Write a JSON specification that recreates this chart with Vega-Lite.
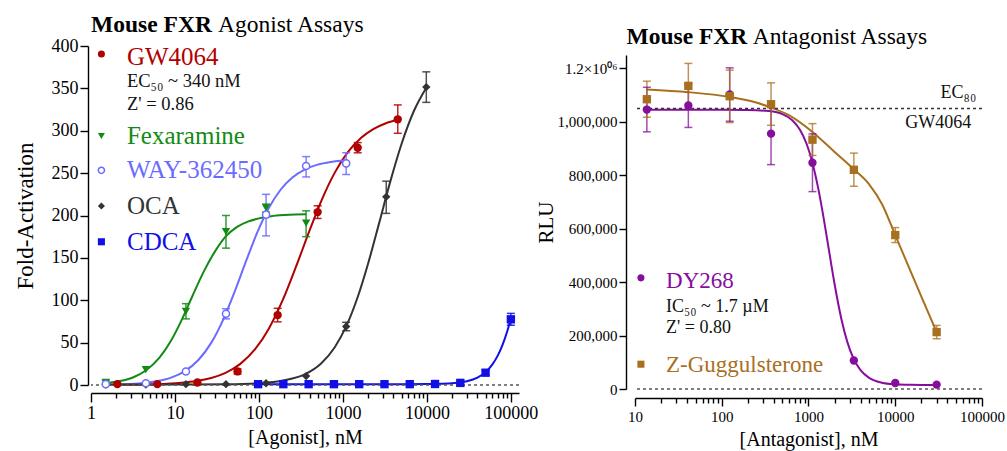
{
  "$schema": "https://vega.github.io/schema/vega-lite/v6.json",
  "background": "white",
  "padding": {"left": 14, "top": 13, "right": 2, "bottom": 2},
  "config": {
    "font": "Liberation Serif",
    "view": {"stroke": null},
    "axis": {"grid": false, "domainColor": "#000", "domainWidth": 1.4, "tickColor": "#000", "tickWidth": 1.4, "labelColor": "#000", "titleColor": "#000", "labelFont": "Liberation Serif", "titleFont": "Liberation Serif", "titleFontWeight": "normal", "labelFlush": false, "labelOverlap": false}
  },
  "datasets": {
    "ago": [
      {"c": "GW4064", "x": 2.06, "y": 1},
      {"c": "GW4064", "x": 6.17, "y": 1},
      {"c": "GW4064", "x": 18.5, "y": 3},
      {"c": "GW4064", "x": 55.6, "y": 16, "lo": 13, "hi": 19},
      {"c": "GW4064", "x": 167, "y": 82.5, "lo": 74.5, "hi": 90.5},
      {"c": "GW4064", "x": 500, "y": 204, "lo": 196.5, "hi": 211.5},
      {"c": "GW4064", "x": 1500, "y": 280, "lo": 274, "hi": 286},
      {"c": "GW4064", "x": 4500, "y": 313.5, "lo": 297, "hi": 330.5},
      {"c": "Fexaramine", "x": 1.5, "y": 3, "lo": 0.5, "hi": 5.5},
      {"c": "Fexaramine", "x": 4.5, "y": 18},
      {"c": "Fexaramine", "x": 13.5, "y": 87, "lo": 78, "hi": 96},
      {"c": "Fexaramine", "x": 40.5, "y": 181, "lo": 161.5, "hi": 200},
      {"c": "Fexaramine", "x": 121.5, "y": 209, "lo": 204, "hi": 213.5},
      {"c": "Fexaramine", "x": 364.5, "y": 191, "lo": 175, "hi": 205.5},
      {"c": "WAY-362450", "x": 1.5, "y": 1},
      {"c": "WAY-362450", "x": 4.5, "y": 2},
      {"c": "WAY-362450", "x": 13.5, "y": 16},
      {"c": "WAY-362450", "x": 40.5, "y": 84, "lo": 78, "hi": 90},
      {"c": "WAY-362450", "x": 121.5, "y": 201, "lo": 176, "hi": 225},
      {"c": "WAY-362450", "x": 364.5, "y": 258.5, "lo": 245.5, "hi": 269.5},
      {"c": "WAY-362450", "x": 1093.5, "y": 261.5, "lo": 248.5, "hi": 274},
      {"c": "OCA", "x": 1.5, "y": 0.5},
      {"c": "OCA", "x": 4.5, "y": 0.5},
      {"c": "OCA", "x": 13.5, "y": 1},
      {"c": "OCA", "x": 40.5, "y": 1},
      {"c": "OCA", "x": 121.5, "y": 2},
      {"c": "OCA", "x": 364.5, "y": 10.5},
      {"c": "OCA", "x": 1093.5, "y": 69, "lo": 64, "hi": 74},
      {"c": "OCA", "x": 3280, "y": 222, "lo": 202.5, "hi": 240.5},
      {"c": "OCA", "x": 9840, "y": 351.5, "lo": 333.5, "hi": 369.5},
      {"c": "CDCA", "x": 97.7, "y": 1},
      {"c": "CDCA", "x": 195.3, "y": 1},
      {"c": "CDCA", "x": 390.6, "y": 1},
      {"c": "CDCA", "x": 781.3, "y": 1},
      {"c": "CDCA", "x": 1562.5, "y": 1},
      {"c": "CDCA", "x": 3125, "y": 1},
      {"c": "CDCA", "x": 6250, "y": 1},
      {"c": "CDCA", "x": 12500, "y": 1.2},
      {"c": "CDCA", "x": 25000, "y": 2.5},
      {"c": "CDCA", "x": 50000, "y": 14.5, "lo": 11.5, "hi": 17.5},
      {"c": "CDCA", "x": 100000, "y": 77.5, "lo": 70.5, "hi": 84.5}
    ],
    "agoFit": [
      {"c": "GW4064", "x": 2.06, "y": 0.2}, {"c": "GW4064", "x": 3, "y": 0.35}, {"c": "GW4064", "x": 5, "y": 0.73}, {"c": "GW4064", "x": 8, "y": 1.45}, {"c": "GW4064", "x": 12, "y": 2.6}, {"c": "GW4064", "x": 18, "y": 4.64}, {"c": "GW4064", "x": 27, "y": 8.27}, {"c": "GW4064", "x": 40, "y": 14.3}, {"c": "GW4064", "x": 60, "y": 24.9}, {"c": "GW4064", "x": 90, "y": 42.2}, {"c": "GW4064", "x": 130, "y": 65.9}, {"c": "GW4064", "x": 190, "y": 99.2}, {"c": "GW4064", "x": 280, "y": 141.1}, {"c": "GW4064", "x": 400, "y": 182.1}, {"c": "GW4064", "x": 570, "y": 220.3}, {"c": "GW4064", "x": 800, "y": 250.6}, {"c": "GW4064", "x": 1150, "y": 275}, {"c": "GW4064", "x": 1650, "y": 291.7}, {"c": "GW4064", "x": 2300, "y": 302}, {"c": "GW4064", "x": 3200, "y": 308.6}, {"c": "GW4064", "x": 4500, "y": 312.9},
      {"c": "Fexaramine", "x": 1.5, "y": 2.2}, {"c": "Fexaramine", "x": 2.2, "y": 4.6}, {"c": "Fexaramine", "x": 3.2, "y": 9.2}, {"c": "Fexaramine", "x": 4.5, "y": 17.1}, {"c": "Fexaramine", "x": 6.5, "y": 31.9}, {"c": "Fexaramine", "x": 9, "y": 52.5}, {"c": "Fexaramine", "x": 12, "y": 76.6}, {"c": "Fexaramine", "x": 16, "y": 104.1}, {"c": "Fexaramine", "x": 22, "y": 133.8}, {"c": "Fexaramine", "x": 30, "y": 157.7}, {"c": "Fexaramine", "x": 40, "y": 175}, {"c": "Fexaramine", "x": 55, "y": 186.5}, {"c": "Fexaramine", "x": 75, "y": 193}, {"c": "Fexaramine", "x": 100, "y": 196.6}, {"c": "Fexaramine", "x": 140, "y": 199.1}, {"c": "Fexaramine", "x": 200, "y": 200.5}, {"c": "Fexaramine", "x": 270, "y": 201.2}, {"c": "Fexaramine", "x": 364.5, "y": 201.5},
      {"c": "WAY-362450", "x": 1.5, "y": 0.4}, {"c": "WAY-362450", "x": 2.5, "y": 0.96}, {"c": "WAY-362450", "x": 4, "y": 2.18}, {"c": "WAY-362450", "x": 6, "y": 4.38}, {"c": "WAY-362450", "x": 9, "y": 8.72}, {"c": "WAY-362450", "x": 13, "y": 16.1}, {"c": "WAY-362450", "x": 19, "y": 29.5}, {"c": "WAY-362450", "x": 27, "y": 49.7}, {"c": "WAY-362450", "x": 38, "y": 78.4}, {"c": "WAY-362450", "x": 52, "y": 111.5}, {"c": "WAY-362450", "x": 70, "y": 145.8}, {"c": "WAY-362450", "x": 95, "y": 179.4}, {"c": "WAY-362450", "x": 130, "y": 208.2}, {"c": "WAY-362450", "x": 180, "y": 230.1}, {"c": "WAY-362450", "x": 250, "y": 244.8}, {"c": "WAY-362450", "x": 350, "y": 254.2}, {"c": "WAY-362450", "x": 500, "y": 260}, {"c": "WAY-362450", "x": 720, "y": 263.2}, {"c": "WAY-362450", "x": 1093.5, "y": 265.2},
      {"c": "OCA", "x": 1.5, "y": 0.5}, {"c": "OCA", "x": 5, "y": 0.5}, {"c": "OCA", "x": 15, "y": 0.6}, {"c": "OCA", "x": 40, "y": 0.9}, {"c": "OCA", "x": 100, "y": 2.1}, {"c": "OCA", "x": 200, "y": 5.5}, {"c": "OCA", "x": 350, "y": 12.5}, {"c": "OCA", "x": 550, "y": 25.4}, {"c": "OCA", "x": 800, "y": 44.6}, {"c": "OCA", "x": 1100, "y": 69.7}, {"c": "OCA", "x": 1500, "y": 103.8}, {"c": "OCA", "x": 2000, "y": 143.7}, {"c": "OCA", "x": 2700, "y": 191}, {"c": "OCA", "x": 3600, "y": 237.3}, {"c": "OCA", "x": 5000, "y": 284.7}, {"c": "OCA", "x": 7000, "y": 323.3}, {"c": "OCA", "x": 9840, "y": 350.8},
      {"c": "CDCA", "x": 97.7, "y": 1}, {"c": "CDCA", "x": 1000, "y": 1}, {"c": "CDCA", "x": 5000, "y": 1.02}, {"c": "CDCA", "x": 10000, "y": 1.16}, {"c": "CDCA", "x": 15000, "y": 1.51}, {"c": "CDCA", "x": 20000, "y": 2.14}, {"c": "CDCA", "x": 25000, "y": 3.13}, {"c": "CDCA", "x": 30000, "y": 4.53}, {"c": "CDCA", "x": 40000, "y": 8.8}, {"c": "CDCA", "x": 50000, "y": 15.2}, {"c": "CDCA", "x": 60000, "y": 24}, {"c": "CDCA", "x": 70000, "y": 34.9}, {"c": "CDCA", "x": 80000, "y": 48}, {"c": "CDCA", "x": 90000, "y": 62.6}, {"c": "CDCA", "x": 100000, "y": 78.2}
    ],
    "ant": [
      {"c": "DY268", "x": 13.7, "y": 1045800, "lo": 962400, "hi": 1129200},
      {"c": "DY268", "x": 41.2, "y": 1060900, "lo": 978900, "hi": 1142900},
      {"c": "DY268", "x": 123.5, "y": 1102000, "lo": 1002000, "hi": 1202000},
      {"c": "DY268", "x": 370, "y": 955700, "lo": 839700, "hi": 1071700},
      {"c": "DY268", "x": 1111, "y": 846700, "lo": 738700, "hi": 954700},
      {"c": "DY268", "x": 3333, "y": 106700},
      {"c": "DY268", "x": 10000, "y": 22500},
      {"c": "DY268", "x": 30000, "y": 16500},
      {"c": "Z-Guggulsterone", "x": 13.7, "y": 1084500, "lo": 1017000, "hi": 1152000},
      {"c": "Z-Guggulsterone", "x": 41.2, "y": 1134500, "lo": 1050500, "hi": 1218500},
      {"c": "Z-Guggulsterone", "x": 123.5, "y": 1095800, "lo": 997000, "hi": 1193500},
      {"c": "Z-Guggulsterone", "x": 370, "y": 1065800, "lo": 986900, "hi": 1145800},
      {"c": "Z-Guggulsterone", "x": 1111, "y": 933100, "lo": 874200, "hi": 993200},
      {"c": "Z-Guggulsterone", "x": 3333, "y": 820400, "lo": 758800, "hi": 882800},
      {"c": "Z-Guggulsterone", "x": 10000, "y": 576200, "lo": 548000, "hi": 604000},
      {"c": "Z-Guggulsterone", "x": 30000, "y": 213000, "lo": 188000, "hi": 238000}
    ],
    "antFit": [
      {"c": "DY268", "x": 13.7, "y": 1045000}, {"c": "DY268", "x": 40, "y": 1045000}, {"c": "DY268", "x": 100, "y": 1044900}, {"c": "DY268", "x": 200, "y": 1044200}, {"c": "DY268", "x": 350, "y": 1040000}, {"c": "DY268", "x": 500, "y": 1028600}, {"c": "DY268", "x": 650, "y": 1006100}, {"c": "DY268", "x": 800, "y": 969600}, {"c": "DY268", "x": 950, "y": 917900}, {"c": "DY268", "x": 1100, "y": 851800}, {"c": "DY268", "x": 1300, "y": 747900}, {"c": "DY268", "x": 1500, "y": 636800}, {"c": "DY268", "x": 1700, "y": 530000}, {"c": "DY268", "x": 2000, "y": 392000}, {"c": "DY268", "x": 2400, "y": 260200}, {"c": "DY268", "x": 2800, "y": 176500}, {"c": "DY268", "x": 3300, "y": 114300}, {"c": "DY268", "x": 4000, "y": 69500}, {"c": "DY268", "x": 5000, "y": 41500}, {"c": "DY268", "x": 7000, "y": 23600}, {"c": "DY268", "x": 10000, "y": 17600}, {"c": "DY268", "x": 15000, "y": 15700}, {"c": "DY268", "x": 20000, "y": 15400}, {"c": "DY268", "x": 30000, "y": 15100},
      {"c": "Z-Guggulsterone", "x": 13.7, "y": 1121000}, {"c": "Z-Guggulsterone", "x": 41.2, "y": 1111000}, {"c": "Z-Guggulsterone", "x": 123.5, "y": 1093000}, {"c": "Z-Guggulsterone", "x": 250, "y": 1072000}, {"c": "Z-Guggulsterone", "x": 370, "y": 1053000}, {"c": "Z-Guggulsterone", "x": 600, "y": 1024000}, {"c": "Z-Guggulsterone", "x": 1111, "y": 962000}, {"c": "Z-Guggulsterone", "x": 2000, "y": 887000}, {"c": "Z-Guggulsterone", "x": 3333, "y": 822000}, {"c": "Z-Guggulsterone", "x": 5000, "y": 766000}, {"c": "Z-Guggulsterone", "x": 7000, "y": 693000}, {"c": "Z-Guggulsterone", "x": 10000, "y": 576000}, {"c": "Z-Guggulsterone", "x": 15000, "y": 441000}, {"c": "Z-Guggulsterone", "x": 20000, "y": 346000}, {"c": "Z-Guggulsterone", "x": 30000, "y": 213000}
    ]
  },
  "spacing": 116,
  "bounds": "flush",
  "resolve": {"scale": {"x": "independent", "y": "independent", "color": "independent", "shape": "independent"}},
  "hconcat": [
    {
      "width": 428,
      "height": 339,
      "layer": [
        {"data": {"name": "agoFit"}, "mark": {"type": "line", "interpolate": "monotone", "strokeWidth": 2}, "encoding": {
          "x": {"field": "x", "type": "quantitative", "scale": {"type": "log", "domain": [1, 125000], "nice": false}, "axis": {"title": "[Agonist], nM", "values": [1,2,3,4,5,6,7,8,9,10,20,30,40,50,60,70,80,90,100,200,300,400,500,600,700,800,900,1000,2000,3000,4000,5000,6000,7000,8000,9000,10000,20000,30000,40000,50000,60000,70000,80000,90000,100000], "offset": 8, "tickSize": {"condition": {"test": "indexof([1,10,100,1000,10000,100000], datum.value) >= 0", "value": 9}, "value": 5}, "labelExpr": "indexof([1,10,100,1000,10000,100000], datum.value) >= 0 ? format(datum.value, 'd') : ''", "labelFontSize": 18, "labelPadding": 2, "titleFontSize": 20, "titlePadding": 5}},
          "y": {"field": "y", "type": "quantitative", "scale": {"domain": [0, 400], "nice": false}, "axis": {"title": "Fold-Activation", "values": [0,50,100,150,200,250,300,350,400], "offset": 3, "tickSize": 8, "labelFontSize": 18, "labelPadding": 2, "titleFontSize": 23, "titlePadding": 14}},
          "color": {"field": "c", "type": "nominal", "scale": {"domain": ["GW4064", "Fexaramine", "WAY-362450", "OCA", "CDCA"], "range": ["#B00000", "#138A13", "#6B6BFF", "#333333", "#0F0FE6"]}, "legend": null}}},
        {"data": {"values": [{}]}, "mark": {"type": "rule", "strokeDash": [3, 3], "color": "#555", "strokeWidth": 1.4}, "encoding": {"y": {"datum": 0, "type": "quantitative", "scale": {"domain": [0, 400], "nice": false}}}},
        {"data": {"name": "ago"}, "mark": {"type": "rule", "strokeWidth": 1.5, "opacity": 0.85}, "encoding": {
          "x": {"field": "x", "type": "quantitative", "scale": {"type": "log", "domain": [1, 125000], "nice": false}},
          "y": {"field": "lo", "type": "quantitative", "scale": {"domain": [0, 400], "nice": false}},
          "y2": {"field": "hi"},
          "color": {"field": "c", "type": "nominal", "scale": {"domain": ["GW4064", "Fexaramine", "WAY-362450", "OCA", "CDCA"], "range": ["#B00000", "#138A13", "#6B6BFF", "#333333", "#0F0FE6"]}, "legend": null}}},
        {"data": {"name": "ago"}, "mark": {"type": "tick", "orient": "horizontal", "size": 8, "thickness": 1.5, "opacity": 0.85}, "encoding": {
          "x": {"field": "x", "type": "quantitative", "scale": {"type": "log", "domain": [1, 125000], "nice": false}},
          "y": {"field": "lo", "type": "quantitative", "scale": {"domain": [0, 400], "nice": false}},
          "color": {"field": "c", "type": "nominal", "scale": {"domain": ["GW4064", "Fexaramine", "WAY-362450", "OCA", "CDCA"], "range": ["#B00000", "#138A13", "#6B6BFF", "#333333", "#0F0FE6"]}, "legend": null}}},
        {"data": {"name": "ago"}, "mark": {"type": "tick", "orient": "horizontal", "size": 8, "thickness": 1.5, "opacity": 0.85}, "encoding": {
          "x": {"field": "x", "type": "quantitative", "scale": {"type": "log", "domain": [1, 125000], "nice": false}},
          "y": {"field": "hi", "type": "quantitative", "scale": {"domain": [0, 400], "nice": false}},
          "color": {"field": "c", "type": "nominal", "scale": {"domain": ["GW4064", "Fexaramine", "WAY-362450", "OCA", "CDCA"], "range": ["#B00000", "#138A13", "#6B6BFF", "#333333", "#0F0FE6"]}, "legend": null}}},
        {"data": {"name": "ago"}, "transform": [{"filter": "datum.c !== 'WAY-362450'"}], "mark": {"type": "point", "filled": true, "opacity": 1, "size": 70}, "encoding": {
          "x": {"field": "x", "type": "quantitative", "scale": {"type": "log", "domain": [1, 125000], "nice": false}},
          "y": {"field": "y", "type": "quantitative", "scale": {"domain": [0, 400], "nice": false}},
          "shape": {"field": "c", "type": "nominal", "scale": {"domain": ["GW4064", "Fexaramine", "WAY-362450", "OCA", "CDCA"], "range": ["circle", "triangle-down", "circle", "diamond", "square"]}, "legend": null},
          "color": {"field": "c", "type": "nominal", "scale": {"domain": ["GW4064", "Fexaramine", "WAY-362450", "OCA", "CDCA"], "range": ["#B00000", "#138A13", "#6B6BFF", "#333333", "#0F0FE6"]}, "legend": null}}},
        {"data": {"name": "ago"}, "transform": [{"filter": "datum.c === 'WAY-362450'"}], "mark": {"type": "point", "shape": "circle", "filled": false, "fill": "white", "fillOpacity": 1, "strokeWidth": 1.5, "opacity": 1, "size": 50}, "encoding": {
          "x": {"field": "x", "type": "quantitative", "scale": {"type": "log", "domain": [1, 125000], "nice": false}},
          "y": {"field": "y", "type": "quantitative", "scale": {"domain": [0, 400], "nice": false}},
          "color": {"field": "c", "type": "nominal", "scale": {"domain": ["GW4064", "Fexaramine", "WAY-362450", "OCA", "CDCA"], "range": ["#B00000", "#138A13", "#6B6BFF", "#333333", "#0F0FE6"]}, "legend": null}}},
        {"data": {"values": [{}]}, "mark": {"type": "point", "shape": "circle", "filled": true, "opacity": 1, "size": 50}, "encoding": {"x": {"datum": 1.33, "type": "quantitative", "scale": {"type": "log", "domain": [1, 125000], "nice": false}}, "y": {"datum": 390.6, "type": "quantitative", "scale": {"domain": [0, 400], "nice": false}}, "color": {"datum": "GW4064", "type": "nominal", "scale": {"domain": ["GW4064", "Fexaramine", "WAY-362450", "OCA", "CDCA"], "range": ["#B00000", "#138A13", "#6B6BFF", "#333333", "#0F0FE6"]}, "legend": null}}},
        {"data": {"values": [{}]}, "mark": {"type": "point", "shape": "triangle-down", "filled": true, "opacity": 1, "size": 50}, "encoding": {"x": {"datum": 1.33, "type": "quantitative", "scale": {"type": "log", "domain": [1, 125000], "nice": false}}, "y": {"datum": 293.8, "type": "quantitative", "scale": {"domain": [0, 400], "nice": false}}, "color": {"datum": "Fexaramine", "type": "nominal", "scale": {"domain": ["GW4064", "Fexaramine", "WAY-362450", "OCA", "CDCA"], "range": ["#B00000", "#138A13", "#6B6BFF", "#333333", "#0F0FE6"]}, "legend": null}}},
        {"data": {"values": [{}]}, "mark": {"type": "point", "shape": "circle", "filled": false, "fill": "white", "fillOpacity": 1, "strokeWidth": 1.5, "opacity": 1, "size": 38}, "encoding": {"x": {"datum": 1.33, "type": "quantitative", "scale": {"type": "log", "domain": [1, 125000], "nice": false}}, "y": {"datum": 253.3, "type": "quantitative", "scale": {"domain": [0, 400], "nice": false}}, "color": {"datum": "WAY-362450", "type": "nominal", "scale": {"domain": ["GW4064", "Fexaramine", "WAY-362450", "OCA", "CDCA"], "range": ["#B00000", "#138A13", "#6B6BFF", "#333333", "#0F0FE6"]}, "legend": null}}},
        {"data": {"values": [{}]}, "mark": {"type": "point", "shape": "diamond", "filled": true, "opacity": 1, "size": 50}, "encoding": {"x": {"datum": 1.33, "type": "quantitative", "scale": {"type": "log", "domain": [1, 125000], "nice": false}}, "y": {"datum": 211.2, "type": "quantitative", "scale": {"domain": [0, 400], "nice": false}}, "color": {"datum": "OCA", "type": "nominal", "scale": {"domain": ["GW4064", "Fexaramine", "WAY-362450", "OCA", "CDCA"], "range": ["#B00000", "#138A13", "#6B6BFF", "#333333", "#0F0FE6"]}, "legend": null}}},
        {"data": {"values": [{}]}, "mark": {"type": "point", "shape": "square", "filled": true, "opacity": 1, "size": 50}, "encoding": {"x": {"datum": 1.33, "type": "quantitative", "scale": {"type": "log", "domain": [1, 125000], "nice": false}}, "y": {"datum": 169, "type": "quantitative", "scale": {"domain": [0, 400], "nice": false}}, "color": {"datum": "CDCA", "type": "nominal", "scale": {"domain": ["GW4064", "Fexaramine", "WAY-362450", "OCA", "CDCA"], "range": ["#B00000", "#138A13", "#6B6BFF", "#333333", "#0F0FE6"]}, "legend": null}}},
        {"data": {"values": [{}]}, "mark": {"type": "text", "text": "GW4064", "fontSize": 25, "align": "left", "baseline": "alphabetic"}, "encoding": {"x": {"datum": 2.68, "type": "quantitative", "scale": {"type": "log", "domain": [1, 125000], "nice": false}}, "y": {"datum": 377.6, "type": "quantitative", "scale": {"domain": [0, 400], "nice": false}}, "color": {"datum": "GW4064", "type": "nominal", "scale": {"domain": ["GW4064", "Fexaramine", "WAY-362450", "OCA", "CDCA"], "range": ["#B00000", "#138A13", "#6B6BFF", "#333333", "#0F0FE6"]}, "legend": null}}},
        {"data": {"values": [{}]}, "mark": {"type": "text", "text": "Fexaramine", "fontSize": 25, "align": "left", "baseline": "alphabetic"}, "encoding": {"x": {"datum": 2.68, "type": "quantitative", "scale": {"type": "log", "domain": [1, 125000], "nice": false}}, "y": {"datum": 284.7, "type": "quantitative", "scale": {"domain": [0, 400], "nice": false}}, "color": {"datum": "Fexaramine", "type": "nominal", "scale": {"domain": ["GW4064", "Fexaramine", "WAY-362450", "OCA", "CDCA"], "range": ["#B00000", "#138A13", "#6B6BFF", "#333333", "#0F0FE6"]}, "legend": null}}},
        {"data": {"values": [{}]}, "mark": {"type": "text", "text": "WAY-362450", "fontSize": 25, "align": "left", "baseline": "alphabetic"}, "encoding": {"x": {"datum": 2.68, "type": "quantitative", "scale": {"type": "log", "domain": [1, 125000], "nice": false}}, "y": {"datum": 244.6, "type": "quantitative", "scale": {"domain": [0, 400], "nice": false}}, "color": {"datum": "WAY-362450", "type": "nominal", "scale": {"domain": ["GW4064", "Fexaramine", "WAY-362450", "OCA", "CDCA"], "range": ["#B00000", "#138A13", "#6B6BFF", "#333333", "#0F0FE6"]}, "legend": null}}},
        {"data": {"values": [{}]}, "mark": {"type": "text", "text": "OCA", "fontSize": 25, "align": "left", "baseline": "alphabetic"}, "encoding": {"x": {"datum": 2.68, "type": "quantitative", "scale": {"type": "log", "domain": [1, 125000], "nice": false}}, "y": {"datum": 201.4, "type": "quantitative", "scale": {"domain": [0, 400], "nice": false}}, "color": {"datum": "OCA", "type": "nominal", "scale": {"domain": ["GW4064", "Fexaramine", "WAY-362450", "OCA", "CDCA"], "range": ["#B00000", "#138A13", "#6B6BFF", "#333333", "#0F0FE6"]}, "legend": null}}},
        {"data": {"values": [{}]}, "mark": {"type": "text", "text": "CDCA", "fontSize": 25, "align": "left", "baseline": "alphabetic"}, "encoding": {"x": {"datum": 2.68, "type": "quantitative", "scale": {"type": "log", "domain": [1, 125000], "nice": false}}, "y": {"datum": 159, "type": "quantitative", "scale": {"domain": [0, 400], "nice": false}}, "color": {"datum": "CDCA", "type": "nominal", "scale": {"domain": ["GW4064", "Fexaramine", "WAY-362450", "OCA", "CDCA"], "range": ["#B00000", "#138A13", "#6B6BFF", "#333333", "#0F0FE6"]}, "legend": null}}},
        {"data": {"values": [{}]}, "mark": {"type": "text", "text": ["EC₅₀ ~ 340 nM", "Z' = 0.86"], "fontSize": 18.5, "lineHeight": 22.5, "align": "left", "baseline": "alphabetic", "color": "#111"}, "encoding": {"x": {"datum": 2.68, "type": "quantitative", "scale": {"type": "log", "domain": [1, 125000], "nice": false}}, "y": {"datum": 351.6, "type": "quantitative", "scale": {"domain": [0, 400], "nice": false}}}},
        {"data": {"values": [{}]}, "mark": {"type": "text", "text": "Mouse FXR", "fontSize": 23.5, "fontWeight": "bold", "align": "right", "baseline": "alphabetic", "color": "#000"}, "encoding": {"x": {"datum": 27.5, "type": "quantitative", "scale": {"type": "log", "domain": [1, 125000], "nice": false}}, "y": {"datum": 416.5, "type": "quantitative", "scale": {"domain": [0, 400], "nice": false}}}},
        {"data": {"values": [{}]}, "mark": {"type": "text", "text": "Agonist Assays", "fontSize": 23.5, "align": "left", "baseline": "alphabetic", "color": "#000"}, "encoding": {"x": {"datum": 32.5, "type": "quantitative", "scale": {"type": "log", "domain": [1, 125000], "nice": false}}, "y": {"datum": 416.5, "type": "quantitative", "scale": {"domain": [0, 400], "nice": false}}}}
      ]
    },
    {
      "width": 347,
      "height": 343,
      "layer": [
        {"data": {"name": "antFit"}, "mark": {"type": "line", "interpolate": "monotone", "strokeWidth": 2}, "encoding": {
          "x": {"field": "x", "type": "quantitative", "scale": {"type": "log", "domain": [10, 100000], "nice": false}, "axis": {"title": "[Antagonist], nM", "values": [10,20,30,40,50,60,70,80,90,100,200,300,400,500,600,700,800,900,1000,2000,3000,4000,5000,6000,7000,8000,9000,10000,20000,30000,40000,50000,60000,70000,80000,90000,100000], "offset": 9, "tickSize": {"condition": {"test": "indexof([10,100,1000,10000,100000], datum.value) >= 0", "value": 8}, "value": 5}, "labelExpr": "indexof([10,100,1000,10000,100000], datum.value) >= 0 ? format(datum.value, 'd') : ''", "labelFontSize": 15, "labelPadding": 3, "titleFontSize": 20, "titlePadding": 5}},
          "y": {"field": "y", "type": "quantitative", "scale": {"domain": [0, 1250000], "nice": false, "range": [343, 9]}, "axis": {"title": "RLU", "values": [0,200000,400000,600000,800000,1000000,1200000], "offset": 9, "tickSize": 7, "labelExpr": "datum.value == 1200000 ? '1.2×10⁰⁶' : format(datum.value, ',')", "labelFontSize": 15, "labelPadding": 2, "titleFontSize": 21, "titlePadding": 1}},
          "color": {"field": "c", "type": "nominal", "scale": {"domain": ["DY268", "Z-Guggulsterone"], "range": ["#860E9E", "#A8701E"]}, "legend": null}}},
        {"data": {"values": [{}]}, "mark": {"type": "rule", "strokeDash": [3, 3], "color": "#555", "strokeWidth": 1.4}, "encoding": {"y": {"datum": 0, "type": "quantitative", "scale": {"domain": [0, 1250000], "nice": false, "range": [343, 9]}}}},
        {"data": {"values": [{}]}, "mark": {"type": "rule", "strokeDash": [3, 3], "color": "#333", "strokeWidth": 1.4}, "encoding": {"y": {"datum": 1050000, "type": "quantitative", "scale": {"domain": [0, 1250000], "nice": false, "range": [343, 9]}}}},
        {"data": {"name": "ant"}, "mark": {"type": "rule", "strokeWidth": 1.5, "opacity": 0.75}, "encoding": {
          "x": {"field": "x", "type": "quantitative", "scale": {"type": "log", "domain": [10, 100000], "nice": false}},
          "y": {"field": "lo", "type": "quantitative", "scale": {"domain": [0, 1250000], "nice": false, "range": [343, 9]}},
          "y2": {"field": "hi"},
          "color": {"field": "c", "type": "nominal", "scale": {"domain": ["DY268", "Z-Guggulsterone"], "range": ["#860E9E", "#A8701E"]}, "legend": null}}},
        {"data": {"name": "ant"}, "mark": {"type": "tick", "orient": "horizontal", "size": 8, "thickness": 1.5, "opacity": 0.75}, "encoding": {
          "x": {"field": "x", "type": "quantitative", "scale": {"type": "log", "domain": [10, 100000], "nice": false}},
          "y": {"field": "lo", "type": "quantitative", "scale": {"domain": [0, 1250000], "nice": false, "range": [343, 9]}},
          "color": {"field": "c", "type": "nominal", "scale": {"domain": ["DY268", "Z-Guggulsterone"], "range": ["#860E9E", "#A8701E"]}, "legend": null}}},
        {"data": {"name": "ant"}, "mark": {"type": "tick", "orient": "horizontal", "size": 8, "thickness": 1.5, "opacity": 0.75}, "encoding": {
          "x": {"field": "x", "type": "quantitative", "scale": {"type": "log", "domain": [10, 100000], "nice": false}},
          "y": {"field": "hi", "type": "quantitative", "scale": {"domain": [0, 1250000], "nice": false, "range": [343, 9]}},
          "color": {"field": "c", "type": "nominal", "scale": {"domain": ["DY268", "Z-Guggulsterone"], "range": ["#860E9E", "#A8701E"]}, "legend": null}}},
        {"data": {"name": "ant"}, "mark": {"type": "point", "filled": true, "opacity": 1, "size": 70}, "encoding": {
          "x": {"field": "x", "type": "quantitative", "scale": {"type": "log", "domain": [10, 100000], "nice": false}},
          "y": {"field": "y", "type": "quantitative", "scale": {"domain": [0, 1250000], "nice": false, "range": [343, 9]}},
          "shape": {"field": "c", "type": "nominal", "scale": {"domain": ["DY268", "Z-Guggulsterone"], "range": ["circle", "square"]}, "legend": null},
          "color": {"field": "c", "type": "nominal", "scale": {"domain": ["DY268", "Z-Guggulsterone"], "range": ["#860E9E", "#A8701E"]}, "legend": null}}},
        {"data": {"values": [{}]}, "mark": {"type": "point", "shape": "circle", "filled": true, "opacity": 1, "size": 50}, "encoding": {"x": {"datum": 11.7, "type": "quantitative", "scale": {"type": "log", "domain": [10, 100000], "nice": false}}, "y": {"datum": 415900, "type": "quantitative", "scale": {"domain": [0, 1250000], "nice": false, "range": [343, 9]}}, "color": {"datum": "DY268", "type": "nominal", "scale": {"domain": ["DY268", "Z-Guggulsterone"], "range": ["#860E9E", "#A8701E"]}, "legend": null}}},
        {"data": {"values": [{}]}, "mark": {"type": "point", "shape": "square", "filled": true, "opacity": 1, "size": 50}, "encoding": {"x": {"datum": 11.7, "type": "quantitative", "scale": {"type": "log", "domain": [10, 100000], "nice": false}}, "y": {"datum": 92800, "type": "quantitative", "scale": {"domain": [0, 1250000], "nice": false, "range": [343, 9]}}, "color": {"datum": "Z-Guggulsterone", "type": "nominal", "scale": {"domain": ["DY268", "Z-Guggulsterone"], "range": ["#860E9E", "#A8701E"]}, "legend": null}}},
        {"data": {"values": [{}]}, "mark": {"type": "text", "text": "DY268", "fontSize": 23, "align": "left", "baseline": "alphabetic"}, "encoding": {"x": {"datum": 22.8, "type": "quantitative", "scale": {"type": "log", "domain": [10, 100000], "nice": false}}, "y": {"datum": 378300, "type": "quantitative", "scale": {"domain": [0, 1250000], "nice": false, "range": [343, 9]}}, "color": {"datum": "DY268", "type": "nominal", "scale": {"domain": ["DY268", "Z-Guggulsterone"], "range": ["#860E9E", "#A8701E"]}, "legend": null}}},
        {"data": {"values": [{}]}, "mark": {"type": "text", "text": "Z-Guggulsterone", "fontSize": 23, "align": "left", "baseline": "alphabetic"}, "encoding": {"x": {"datum": 22.8, "type": "quantitative", "scale": {"type": "log", "domain": [10, 100000], "nice": false}}, "y": {"datum": 63900, "type": "quantitative", "scale": {"domain": [0, 1250000], "nice": false, "range": [343, 9]}}, "color": {"datum": "Z-Guggulsterone", "type": "nominal", "scale": {"domain": ["DY268", "Z-Guggulsterone"], "range": ["#860E9E", "#A8701E"]}, "legend": null}}},
        {"data": {"values": [{}]}, "mark": {"type": "text", "text": ["IC₅₀ ~ 1.7 µM", "Z' = 0.80"], "fontSize": 18, "lineHeight": 21, "align": "left", "baseline": "alphabetic", "color": "#111"}, "encoding": {"x": {"datum": 22.8, "type": "quantitative", "scale": {"type": "log", "domain": [10, 100000], "nice": false}}, "y": {"datum": 289300, "type": "quantitative", "scale": {"domain": [0, 1250000], "nice": false, "range": [343, 9]}}}},
        {"data": {"values": [{}]}, "mark": {"type": "text", "text": "EC₈₀", "fontSize": 18, "align": "right", "baseline": "alphabetic", "color": "#111"}, "encoding": {"x": {"datum": 85700, "type": "quantitative", "scale": {"type": "log", "domain": [10, 100000], "nice": false}}, "y": {"datum": 1088300, "type": "quantitative", "scale": {"domain": [0, 1250000], "nice": false, "range": [343, 9]}}}},
        {"data": {"values": [{}]}, "mark": {"type": "text", "text": "GW4064", "fontSize": 18, "align": "right", "baseline": "alphabetic", "color": "#111"}, "encoding": {"x": {"datum": 75000, "type": "quantitative", "scale": {"type": "log", "domain": [10, 100000], "nice": false}}, "y": {"datum": 975600, "type": "quantitative", "scale": {"domain": [0, 1250000], "nice": false, "range": [343, 9]}}}},
        {"data": {"values": [{}]}, "mark": {"type": "text", "text": "Mouse FXR", "fontSize": 23.5, "fontWeight": "bold", "align": "right", "baseline": "alphabetic", "color": "#000"}, "encoding": {"x": {"datum": 197, "type": "quantitative", "scale": {"type": "log", "domain": [10, 100000], "nice": false}}, "y": {"datum": 1291000, "type": "quantitative", "scale": {"domain": [0, 1250000], "nice": false, "range": [343, 9]}}}},
        {"data": {"values": [{}]}, "mark": {"type": "text", "text": "Antagonist Assays", "fontSize": 23.5, "align": "left", "baseline": "alphabetic", "color": "#000"}, "encoding": {"x": {"datum": 228, "type": "quantitative", "scale": {"type": "log", "domain": [10, 100000], "nice": false}}, "y": {"datum": 1291000, "type": "quantitative", "scale": {"domain": [0, 1250000], "nice": false, "range": [343, 9]}}}}
      ]
    }
  ]
}
